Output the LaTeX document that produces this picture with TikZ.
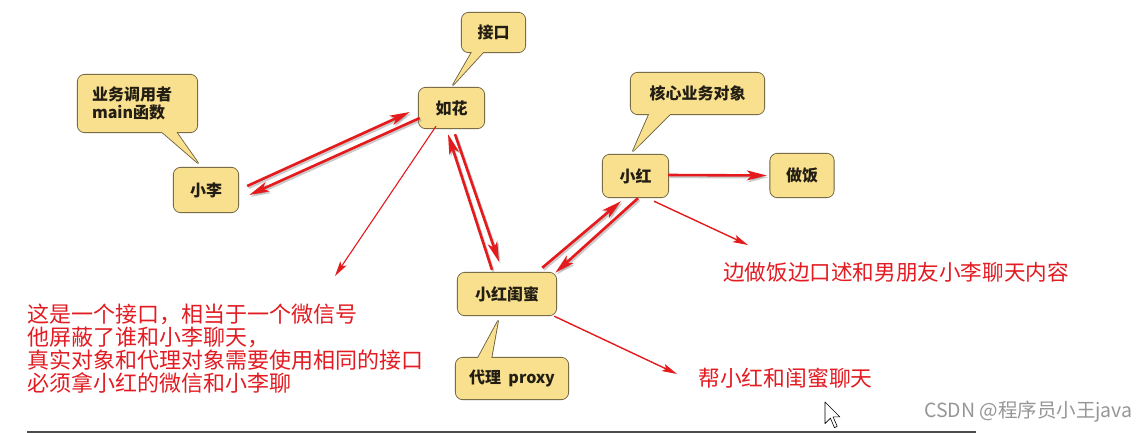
\documentclass[tikz,border=0pt]{standalone}
\usepackage{fontspec}
\newfontfamily\cjk{Noto Sans CJK SC}
\usetikzlibrary{arrows.meta,calc}
\definecolor{boxfill}{RGB}{249,224,142}
\definecolor{boxline}{RGB}{105,94,60}
\definecolor{arrred}{RGB}{228,26,28}
\definecolor{txtred}{RGB}{226,28,34}
\definecolor{wmgray}{RGB}{150,150,150}
\definecolor{nodetxt}{RGB}{34,30,20}
\pgfdeclarelayer{bg}
\pgfdeclarelayer{bstroke}
\pgfdeclarelayer{bfill}
\pgfsetlayers{bg,bstroke,bfill,main}
\tikzset{
  bstr/.style={draw=boxline, line width=1.7pt, line join=round},
  bfil/.style={fill=boxfill},
  boxtxt/.style={inner sep=0pt, text=nodetxt, font=\cjk\bfseries\fontsize{16}{18}\selectfont, align=center},
  thk/.style={draw=arrred, line width=2.6pt, -{Stealth[length=20pt,width=10pt,inset=5pt]},
    preaction={draw=black!45, opacity=0.45, line width=2.6pt, transform canvas={shift={(1.4pt,-1.8pt)}}}},
  thn/.style={draw=arrred, line width=1.4pt, -{Stealth[length=15pt,width=7.5pt,inset=3pt]}},
  redtxt/.style={inner sep=0pt, text=txtred, anchor=west, align=left}
}
\newcommand\mkbox[1]{%
  \begin{pgfonlayer}{bstroke}\draw[bstr, rounded corners=7pt] (#1.south west) rectangle (#1.north east);\end{pgfonlayer}%
  \begin{pgfonlayer}{bfill}\fill[bfil, rounded corners=7pt] (#1.south west) rectangle (#1.north east);\end{pgfonlayer}}
\newcommand\mktail[3]{%
  \begin{pgfonlayer}{bstroke}\draw[bstr] #1 -- #2 -- #3 -- cycle;\end{pgfonlayer}%
  \begin{pgfonlayer}{bfill}\fill[bfil] #1 -- #2 -- #3 -- cycle;\end{pgfonlayer}}
\begin{document}
\begin{tikzpicture}[x=1pt, y=-1pt]
\useasboundingbox (0,0) rectangle (1147,433);
\begin{pgfonlayer}{bg}\fill[white] (0,0) rectangle (1147,433);\end{pgfonlayer}

% nodes
\node[boxtxt, minimum width=63pt, minimum height=39pt] (jk) at (493.5,32.5) {接口};
\node[boxtxt, minimum width=119pt, minimum height=57pt, text width=91pt, align=left] (yw) at (137.5,103.5) {业务调用者\\main函数};
\node[boxtxt, minimum width=65pt, minimum height=40pt] (rh) at (451.5,108) {如花};
\node[boxtxt, minimum width=64pt, minimum height=44pt] (li) at (206,190) {小李};
\node[boxtxt, minimum width=133pt, minimum height=41pt] (hx) at (697.5,93.5) {核心业务对象};
\node[boxtxt, minimum width=65pt, minimum height=42pt] (xh) at (635.5,176) {小红};
\node[boxtxt, minimum width=63pt, minimum height=43pt] (zf) at (802,175.5) {做饭};
\node[boxtxt, minimum width=98pt, minimum height=42pt] (gm) at (507,294) {小红闺蜜};
\node[boxtxt, minimum width=112pt, minimum height=41pt] (dl) at (512,378.5) {代理\ \ proxy};

\mkbox{jk}\mkbox{yw}\mkbox{rh}\mkbox{li}\mkbox{hx}\mkbox{xh}\mkbox{zf}\mkbox{gm}\mkbox{dl}
\mktail{([shift={(-20.5,-2)}]jk.south)}{(453,85)}{([shift={(-8.5,-2)}]jk.south)}
\mktail{([shift={(22.5,-2)}]yw.south)}{(198,163)}{([shift={(37.5,-2)}]yw.south)}
\mktail{([shift={(-47.5,-2)}]hx.south)}{(633,151)}{([shift={(-25.5,-2)}]hx.south)}
\mktail{([shift={(-35,2)}]dl.north)}{(498,321)}{([shift={(-21,2)}]dl.north)}

% text
\node[redtxt, font=\cjk\fontsize{22}{23}\selectfont] (note) at (27,348.5)
  {这是一个接口，相当于一个微信号\\他屏蔽了谁和小李聊天，\\真实对象和代理对象需要使用相同的接口\\必须拿小红的微信和小李聊};
\node[redtxt, font=\cjk\fontsize{21.6}{24}\selectfont] (t1txt) at (723,272) {边做饭边口述和男朋友小李聊天内容};
\node[redtxt, font=\cjk\fontsize{21.8}{24}\selectfont] (t2txt) at (698,378) {帮小红和闺蜜聊天};
\node[inner sep=0pt, anchor=west, text=wmgray, font=\cjk\fontsize{19.5}{22}\selectfont] (wm) at (924,412) {CSDN @程序员小王java};

\coordinate (e1) at (748,245);
\coordinate (e2) at (335,276);
\coordinate (e3) at (677,374);

% connectors
\draw[thk] ([shift={(9,-4)}]li.east) -- ([shift={(-9,4)}]rh.west);
\draw[thk] ([shift={(1,10)}]rh.west) -- ([shift={(11,5)}]li.east);
\draw[thk] ([shift={(-15,-3)}]gm.north) -- ([shift={(-3.5,6)}]rh.south);
\draw[thk] ([shift={(3.5,6)}]rh.south) -- ([shift={(-8,-11)}]gm.north);
\draw[thk] ([shift={(-14,-5)}]gm.north east) -- ([shift={(-14.5,4)}]xh.south);
\draw[thk] ([shift={(2.5,1)}]xh.south) -- ([shift={(-1,0)}]gm.north east);
\draw[thk] ([shift={(0,-1)}]xh.east) -- ([shift={(-3.5,0)}]zf.west);
\draw[thn] ([shift={(18.5,4)}]xh.south) -- (e1);
\draw[thn, line width=1.1pt] ([shift={(-15.5,-2)}]rh.south) -- (e2);
\draw[thn] ([shift={(-2,1)}]gm.south east) -- (e3);

% mouse cursor
\draw[black, line width=0.6pt, fill=white, line join=round]
  (825,402) -- (825,423.6) -- (830.4,418.2) -- (834.5,427.7) -- (837.2,426.3) -- (833.1,416.9) -- (839.9,416.9) -- cycle;

% bottom rule
\draw[black!70, line width=2pt] (27,432.2) -- (976,432.2);
\end{tikzpicture}
\end{document}
